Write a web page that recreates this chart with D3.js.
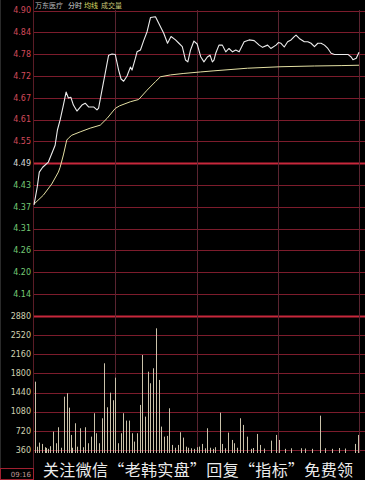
<!DOCTYPE html>
<html>
<head>
<meta charset="utf-8">
<script src="https://cdn.jsdelivr.net/npm/d3@7"></script>
<style>
  html, body { margin: 0; padding: 0; background: #000; }
  svg { display: block; }
  text { font-family: "DejaVu Sans", "Noto Sans", sans-serif; }
  .cjk { font-family: "Noto Sans CJK SC", "Noto Sans", sans-serif; }
</style>
</head>
<body>
<div id="chart"></div>
<script>
// ---- intraday data: 万东医疗 分时 ----
const PRE_CLOSE = 4.49;
const LIMIT_SPAN = 0.41;             // distance from previous close to the top/bottom labels
const priceTickLabels = ["4.90", "4.84", "4.78", "4.72", "4.67", "4.61", "4.55",
                         "4.49", "4.43", "4.37", "4.31", "4.26", "4.20", "4.14"];
const volTickLabels = [2880, 2520, 2160, 1800, 1440, 1080, 720, 360];

// price line (minute index from the open, price)
const priceMinutes = [0, 2.4, 3.9, 6.4, 10.6, 13.6, 15.6, 17.3, 19.3, 21.7, 23.7, 25.4, 27.2, 29.1, 31.7,
  35.4, 37.8, 40.3, 44.0, 46.5, 47.7, 50.2, 52.6, 55.1, 57.6, 60.0, 62.5, 64.3, 66.2, 68.7,
  71.2, 72.4, 74.9, 76.1, 78.6, 81.0, 83.5, 86.0, 89.7, 92.1, 95.8, 98.6, 101.2, 104.5, 107.0,
  109.5, 111.9, 113.6, 115.6, 118.1, 120.5, 123.1, 125.5, 128.0, 130.0, 131.7, 132.9, 134.2,
  136.6, 139.1, 141.6, 144.0, 146.6, 149.0, 151.5, 155.2, 158.9, 162.6, 166.3, 168.8, 172.5,
  174.9, 178.7, 180.5, 182.4, 184.8, 187.3, 189.8, 192.2, 193.5, 195.9, 199.6, 202.2, 204.6,
  207.1, 209.6, 212.0, 214.5, 217.0, 219.4, 221.9, 231.8, 234.2, 235.5, 238.0, 240];
const priceValues = [4.378, 4.426, 4.466, 4.479, 4.493, 4.520, 4.538, 4.579, 4.606, 4.646, 4.681, 4.665, 4.667, 4.646, 4.630,
  4.646, 4.651, 4.641, 4.641, 4.633, 4.638, 4.686, 4.732, 4.780, 4.783, 4.782, 4.740, 4.716, 4.710, 4.724,
  4.748, 4.740, 4.772, 4.789, 4.794, 4.819, 4.843, 4.881, 4.883, 4.866, 4.839, 4.812, 4.830, 4.821, 4.812,
  4.803, 4.767, 4.762, 4.794, 4.818, 4.810, 4.776, 4.762, 4.775, 4.780, 4.762, 4.767, 4.785,
  4.807, 4.807, 4.789, 4.798, 4.789, 4.794, 4.789, 4.816, 4.821, 4.819, 4.807, 4.801, 4.807,
  4.798, 4.807, 4.814, 4.812, 4.802, 4.816, 4.821, 4.830, 4.834, 4.825, 4.816, 4.816, 4.812,
  4.803, 4.812, 4.812, 4.807, 4.798, 4.785, 4.782, 4.782, 4.775, 4.768, 4.772, 4.788];

// average price line
const avgMinutes = [0, 6.9, 13.1, 18.0, 19.3, 21.7, 24.2, 25.4, 27.9, 34.1, 41.5, 48.9, 53.9, 60.0, 63.2,
  71.2, 77.3, 83.5, 89.7, 93.4, 100.8, 110.7, 123.1, 132.9, 157.7, 182.4, 207.1, 226.8, 240];
const avgValues = [4.380, 4.404, 4.434, 4.466, 4.479, 4.512, 4.552, 4.557, 4.565, 4.574, 4.584, 4.592, 4.610, 4.637, 4.644,
  4.655, 4.661, 4.686, 4.709, 4.722, 4.727, 4.731, 4.735, 4.738, 4.745, 4.749, 4.751, 4.752, 4.753];

// traded volume per minute (hands)
const volMinutes = [1, 2, 4, 6, 8, 9, 10, 12, 14, 16, 18, 20, 22, 24, 26, 27, 28, 30, 32, 34, 36, 38, 40, 42, 44,
  46, 48, 50, 52, 54, 56, 58, 60, 62, 64, 66, 68, 70, 72, 74, 76, 78, 80, 82, 84, 86, 88, 90, 92,
  94, 96, 98, 100, 102, 104, 106, 108, 110, 112, 114, 116, 118, 120, 122, 124, 126, 128, 130, 132,
  134, 137, 139, 141, 143, 146, 148, 150, 152, 154, 157, 160, 162, 165, 167, 170, 175, 179, 181,
  185, 190, 197, 200, 205, 211, 215, 220, 225, 230, 237, 239];
const volValues = [1644, 420, 497, 472, 410, 397, 380, 430, 703, 485, 786, 400, 1362, 1426, 1155, 641, 400, 861, 420, 767, 410, 786, 485, 609, 1050,
  673, 485, 955, 1990, 1162, 1437, 1295, 1719, 485, 673, 1050, 911, 911, 673, 516, 673, 1206, 2146, 986, 1832, 1614, 1896, 2648, 1676,
  798, 609, 623, 1143, 453, 400, 453, 692, 591, 420, 400, 390, 380, 410, 421, 472, 390, 767, 400, 380,
  410, 1061, 472, 390, 685, 547, 485, 400, 955, 830, 609, 380, 395, 660, 453, 385, 534, 641, 547,
  380, 390, 391, 385, 380, 1004, 390, 380, 395, 385, 472, 641];

// ---- layout ----
const W = 365, H = 480;
const left = 34, right = 359;

const svg = d3.select("#chart").append("svg")
  .attr("width", W).attr("height", H);

svg.append("rect").attr("width", W).attr("height", H).attr("fill", "#000");

const x = d3.scaleLinear().domain([0, 240]).range([left, right]);
const priceStep = LIMIT_SPAN / 7;
const yPrice = d3.scaleLinear()
  .domain([PRE_CLOSE - 6 * priceStep, PRE_CLOSE + 7 * priceStep])
  .range([294, 10.5]);
const yVol = d3.scaleLinear().domain([0, 2880]).range([469, 316]);

// ---- grid ----
const grid = svg.append("g");
priceTickLabels.forEach((lab, i) => {
  const level = PRE_CLOSE + (7 - i) * priceStep;
  const y = Math.round(yPrice(level)) + 0.5;
  const main = lab === "4.49";
  grid.append("line")
    .attr("x1", left).attr("x2", W).attr("y1", y).attr("y2", y)
    .attr("stroke", main ? "#c8283c" : "#7c1c2c")
    .attr("stroke-width", main ? 2 : 1);
});
volTickLabels.forEach(v => {
  const y = Math.round(yVol(v)) + 0.5;
  const main = v === 2880;
  grid.append("line")
    .attr("x1", left).attr("x2", W).attr("y1", y).attr("y2", y)
    .attr("stroke", main ? "#c8283c" : "#7c1c2c")
    .attr("stroke-width", main ? 2 : 1);
});
[60, 120, 180, 240].forEach(m => {
  const xx = Math.round(x(m)) + 0.5;
  grid.append("line")
    .attr("x1", xx).attr("x2", xx).attr("y1", 10).attr("y2", 453)
    .attr("stroke", "#5a2430").attr("stroke-width", 1);
});
// left panel border
svg.append("line").attr("x1", 33.5).attr("x2", 33.5).attr("y1", 0).attr("y2", H)
  .attr("stroke", "#5a1c26");
svg.append("line").attr("x1", 0.5).attr("x2", 0.5).attr("y1", 0).attr("y2", H)
  .attr("stroke", "#2a2a2a");

// ---- axis labels ----
const labels = svg.append("g").attr("font-size", 8).attr("text-anchor", "end");
priceTickLabels.forEach((lab, i) => {
  const level = PRE_CLOSE + (7 - i) * priceStep;
  const c = i < 7 ? "#d24a5a" : (i === 7 ? "#d8d8d8" : "#74c874");
  labels.append("text")
    .attr("x", 31).attr("y", yPrice(level))
    .attr("dy", "0.35em")
    .attr("fill", c)
    .text(lab);
});
volTickLabels.forEach(v => {
  labels.append("text")
    .attr("x", 31).attr("y", yVol(v))
    .attr("dy", "0.35em")
    .attr("fill", "#d0d0b0")
    .text(v);
});

// ---- volume bars ----
const vols = volMinutes.map((m, i) => ({ m, v: volValues[i] }));
svg.append("g").selectAll("line").data(vols).join("line")
  .attr("x1", d => Math.round(x(d.m)) + 0.5)
  .attr("x2", d => Math.round(x(d.m)) + 0.5)
  .attr("y1", yVol(0))
  .attr("y2", d => yVol(d.v))
  .attr("stroke", "#cac2aa").attr("stroke-width", 1);

// ---- price and average lines ----
const pricePts = priceMinutes.map((m, i) => [m, priceValues[i]]);
const avgPts = avgMinutes.map((m, i) => [m, avgValues[i]]);
const line = d3.line().x(d => x(d[0])).y(d => yPrice(d[1]));

svg.append("path").datum(avgPts).attr("d", line)
  .attr("fill", "none").attr("stroke", "#e4e0a4").attr("stroke-width", 1);
svg.append("path").datum(pricePts).attr("d", line)
  .attr("fill", "none").attr("stroke", "#ececec").attr("stroke-width", 1.1)
  .attr("stroke-linejoin", "round");

// ---- title ----
const title = svg.append("g").attr("font-size", 7);
title.append("text").attr("x", 35).attr("y", 8).attr("class", "cjk").attr("fill", "#b8b8b8").text("万东医疗");
title.append("text").attr("x", 68).attr("y", 8).attr("class", "cjk").attr("fill", "#d8d8d8").text("分时");
title.append("text").attr("x", 84).attr("y", 8).attr("class", "cjk").attr("fill", "#d8d860").text("均线");
title.append("text").attr("x", 101).attr("y", 8).attr("class", "cjk").attr("fill", "#c8c878").text("成交量");

// ---- footer ----
svg.append("rect").attr("x", 34).attr("y", 453).attr("width", W - 34).attr("height", H - 453)
  .attr("fill", "#000");
svg.append("rect").attr("x", 0.5).attr("y", 468.5).attr("width", 33).attr("height", 11)
  .attr("fill", "none").attr("stroke", "#a02030");
svg.append("text").attr("x", 31).attr("y", 477).attr("text-anchor", "end")
  .attr("font-size", 7).attr("fill", "#c09898").text("09:16");
svg.append("text").attr("class", "cjk")
  .attr("x", 43).attr("y", 475.5)
  .attr("font-size", 16).attr("fill", "#ececec")
  .attr("textLength", 310).attr("lengthAdjust", "spacing")
  .text("关注微信“老韩实盘”回复“指标”免费领");
</script>
</body>
</html>
